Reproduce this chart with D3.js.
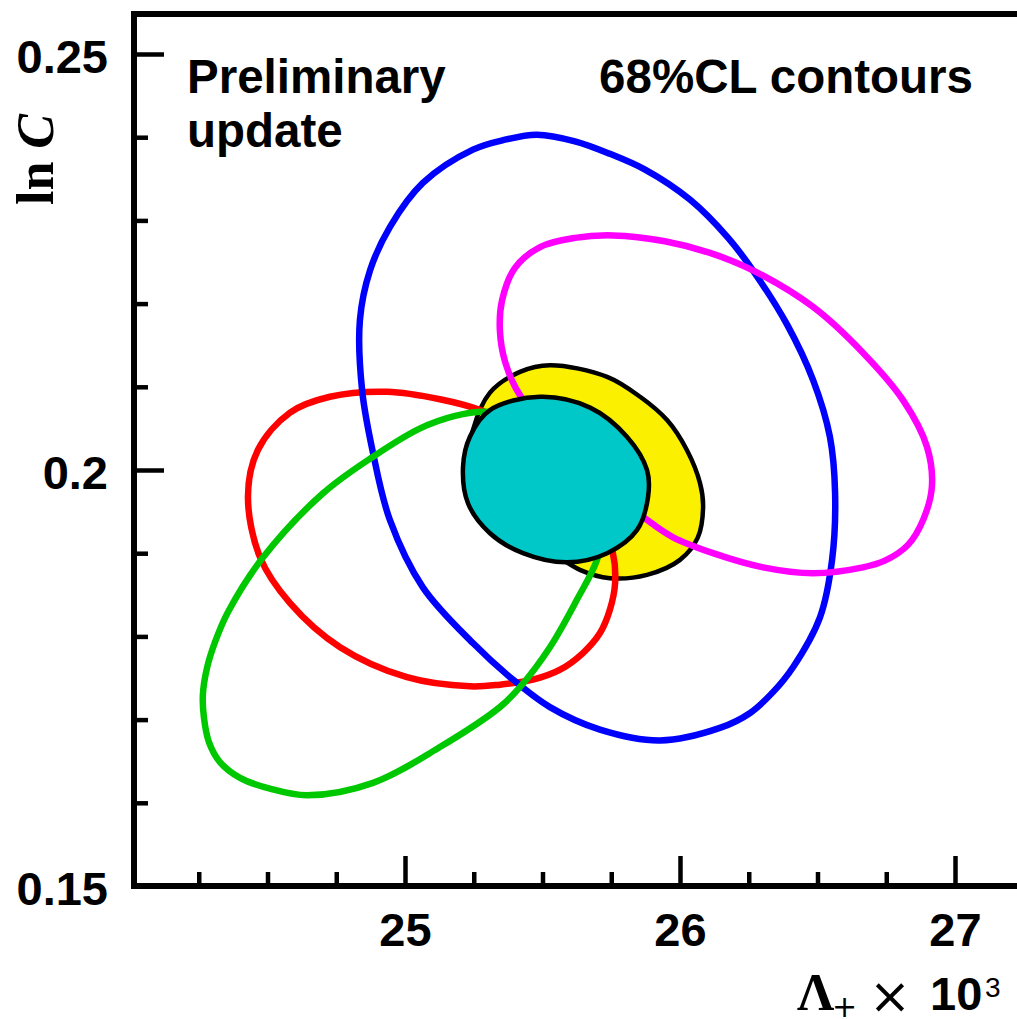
<!DOCTYPE html>
<html lang="en">
<head>
  <meta charset="UTF-8">
  <title>68%CL contours</title>
  <script src="https://d3js.org/d3.v7.min.js"></script>
  <style>
    body {
      margin: 0;
      background: #fff;
    }
    svg {
      display: block;
    }
  </style>
</head>
<body>
  <svg id="chart" width="1017" height="1019"></svg>

  <script>
    // Tick values.
    const xMajor = [25, 26, 27];
    const xMinor = [24.25, 24.5, 24.75, 25.25, 25.5, 25.75, 26.25, 26.5, 26.75];
    const yMajor = [0.15, 0.2, 0.25];
    const yMinor = [0.16, 0.17, 0.18, 0.19, 0.21, 0.22, 0.23, 0.24];

    // Contour points: [Lambda+ x 10^3, ln C]
    const contourYellow = [
      [25.247, 0.2048], [25.309, 0.2093], [25.418, 0.2118], [25.527, 0.2126],
      [25.735, 0.2112], [25.855, 0.2088], [25.953, 0.2060], [26.025, 0.2024],
      [26.073, 0.1984], [26.084, 0.1956], [26.065, 0.1919], [26.000, 0.1892],
      [25.880, 0.1874], [25.745, 0.1870], [25.636, 0.1880], [25.491, 0.1910],
      [25.309, 0.1940], [25.229, 0.2000]
    ];
    const contourRed = [
      [24.935, 0.2094], [25.127, 0.2085], [25.273, 0.2072], [25.491, 0.2036],
      [25.673, 0.1970], [25.756, 0.1900], [25.764, 0.1864], [25.745, 0.1832],
      [25.709, 0.1804], [25.647, 0.1780], [25.564, 0.1760], [25.465, 0.1748],
      [25.345, 0.1742], [25.236, 0.1740], [25.007, 0.1751], [24.764, 0.1787],
      [24.582, 0.1840], [24.473, 0.1895], [24.429, 0.1968], [24.465, 0.2024],
      [24.582, 0.2069], [24.727, 0.2088]
    ];
    const contourBlue = [
      [25.480, 0.2403], [25.618, 0.2395], [25.745, 0.2380], [25.873, 0.2361],
      [26.036, 0.2325], [26.175, 0.2279], [26.265, 0.2240], [26.389, 0.2175],
      [26.484, 0.2108], [26.545, 0.2040], [26.564, 0.1972], [26.553, 0.1892],
      [26.509, 0.1823], [26.411, 0.1763], [26.338, 0.1733], [26.255, 0.1708],
      [26.145, 0.1690], [25.927, 0.1675], [25.709, 0.1688], [25.527, 0.1715],
      [25.382, 0.1751], [25.247, 0.1792], [25.065, 0.1859], [24.945, 0.1940],
      [24.884, 0.2020], [24.844, 0.2096], [24.836, 0.2180], [24.873, 0.2240],
      [24.945, 0.2292], [25.065, 0.2345], [25.247, 0.2385], [25.364, 0.2397]
    ];
    const contourGreen = [
      [25.284, 0.2070], [25.491, 0.2060], [25.673, 0.2012], [25.727, 0.1940],
      [25.698, 0.1892], [25.625, 0.1844], [25.527, 0.1787], [25.418, 0.1739],
      [25.345, 0.1715], [25.127, 0.1667], [24.884, 0.1624], [24.644, 0.1609],
      [24.509, 0.1617], [24.400, 0.1630], [24.327, 0.1649], [24.287, 0.1673],
      [24.269, 0.1702], [24.265, 0.1730], [24.280, 0.1762], [24.309, 0.1793],
      [24.356, 0.1829], [24.484, 0.1895], [24.702, 0.1972], [24.884, 0.2016],
      [25.055, 0.2050], [25.182, 0.2065]
    ];
    const contourMagenta = [
      [25.756, 0.2282], [25.945, 0.2275], [26.109, 0.2261], [26.265, 0.2240],
      [26.484, 0.2196], [26.665, 0.2141], [26.811, 0.2084], [26.898, 0.2028],
      [26.916, 0.1980], [26.884, 0.1940], [26.829, 0.1910], [26.745, 0.1891],
      [26.665, 0.1883], [26.484, 0.1876], [26.302, 0.1883], [26.120, 0.1900],
      [25.975, 0.1919], [25.880, 0.1940], [25.745, 0.1976], [25.564, 0.2036],
      [25.418, 0.2090], [25.364, 0.2130], [25.345, 0.2168], [25.353, 0.2204],
      [25.400, 0.2243], [25.491, 0.2268], [25.618, 0.2279]
    ];
    const contourCyan = [
      [25.211, 0.2004], [25.236, 0.2040], [25.309, 0.2072], [25.491, 0.2088],
      [25.673, 0.2075], [25.807, 0.2040], [25.880, 0.2000], [25.884, 0.1968],
      [25.844, 0.1928], [25.735, 0.1900], [25.589, 0.1889], [25.429, 0.1900],
      [25.309, 0.1924], [25.229, 0.1960]
    ];

    // Layout.
    const frameLeft = 134, frameTop = 14, frameRight = 1017;

    const svg = d3.select("#chart");

    const xScale = d3.scaleLinear().domain([25, 27]).range([405, 955]);
    const yScale = d3.scaleLinear().domain([0.15, 0.25]).range([886, 54]);
    const frameBottom = yScale(0.15);

    const line = d3.line()
      .x(d => xScale(d[0]))
      .y(d => yScale(d[1]))
      .curve(d3.curveCatmullRomClosed.alpha(0.5));

    // --------------------------
    // Contours (yellow, lines, cyan on top)
    // --------------------------
    svg.append("path")
      .datum(contourYellow)
      .attr("d", line)
      .attr("fill", "#faf000")
      .attr("stroke", "#000")
      .attr("stroke-width", 4.5);

    const lines = [
      { pts: contourRed, color: "#ff0000" },
      { pts: contourBlue, color: "#0000ff" },
      { pts: contourGreen, color: "#00c800" },
      { pts: contourMagenta, color: "#ff00ff" }
    ];
    lines.forEach(l => {
      svg.append("path")
        .datum(l.pts)
        .attr("d", line)
        .attr("fill", "none")
        .attr("stroke", l.color)
        .attr("stroke-width", 6.5);
    });

    svg.append("path")
      .datum(contourCyan)
      .attr("d", line)
      .attr("fill", "#00c8c8")
      .attr("stroke", "#000")
      .attr("stroke-width", 4.5);

    // --------------------------
    // Axes (ticks pointing inward)
    // --------------------------
    const fontSans = "'Liberation Sans', Arial, Helvetica, sans-serif";
    const fontSerif = "'Liberation Serif', 'Times New Roman', serif";

    const xAxisMajor = svg.append("g")
      .attr("transform", `translate(0,${frameBottom})`)
      .call(d3.axisBottom(xScale).tickValues(xMajor).tickSize(-30).tickPadding(27)
        .tickFormat(d3.format("d")));
    const xAxisMinor = svg.append("g")
      .attr("transform", `translate(0,${frameBottom})`)
      .call(d3.axisBottom(xScale).tickValues(xMinor).tickSize(-14).tickFormat(""));

    const yAxisMajor = svg.append("g")
      .attr("transform", `translate(${frameLeft},0)`)
      .call(d3.axisLeft(yScale).tickValues(yMajor).tickSize(-30).tickPadding(26)
        .tickFormat(d => d === 0.2 ? "0.2" : d3.format(".2f")(d)));
    const yAxisMinor = svg.append("g")
      .attr("transform", `translate(${frameLeft},0)`)
      .call(d3.axisLeft(yScale).tickValues(yMinor).tickSize(-14).tickFormat(""));

    [xAxisMajor, xAxisMinor, yAxisMajor, yAxisMinor].forEach(a => {
      a.select(".domain").remove();
      a.selectAll(".tick line").attr("stroke", "#000").attr("stroke-width", 4.5);
      a.selectAll(".tick text")
        .attr("fill", "#000")
        .style("font-family", fontSans)
        .style("font-weight", "bold")
        .style("font-size", "47px");
    });
    yAxisMajor.selectAll(".tick text").attr("dy", "0.4em");

    // Frame: left, top, bottom (right side falls outside the picture).
    svg.append("path")
      .attr("d", `M${frameRight},${frameTop} H${frameLeft} V${frameBottom + 3} M${frameLeft - 3},${frameBottom} H${frameRight}`)
      .attr("fill", "none")
      .attr("stroke", "#000")
      .attr("stroke-width", 6);

    // --------------------------
    // Labels
    // --------------------------
    const label = (x, y, txt, anchor) => svg.append("text")
      .attr("x", x).attr("y", y)
      .attr("text-anchor", anchor)
      .style("font-family", fontSans).style("font-weight", "bold").style("font-size", "47.5px")
      .text(txt);
    label(187, 93, "Preliminary", "start");
    label(187, 147, "update", "start");
    label(973, 93, "68%CL contours", "end");

    // Y axis title: ln C
    const yTitle = svg.append("text")
      .attr("transform", "translate(53,205) rotate(-90)")
      .style("font-family", fontSerif)
      .style("font-weight", "bold")
      .style("font-size", "52px");
    yTitle.append("tspan").text("ln ");
    yTitle.append("tspan").style("font-style", "italic").text("C");

    // X axis title: Λ+ × 10^3
    const xTitle = svg.append("text");
    xTitle.append("tspan")
      .attr("x", 797).attr("y", 1010)
      .style("font-family", fontSerif).style("font-weight", "bold").style("font-size", "52px")
      .text("Λ");
    xTitle.append("tspan")
      .attr("x", 832).attr("y", 1017)
      .style("font-family", "'DejaVu Sans', sans-serif").style("font-size", "30px")
      .text("+");
    xTitle.append("tspan")
      .attr("x", 869).attr("y", 1013)
      .style("font-family", "'DejaVu Sans', sans-serif").style("font-size", "50px")
      .text("×");
    xTitle.append("tspan")
      .attr("x", 930).attr("y", 1010)
      .style("font-family", fontSans).style("font-weight", "bold").style("font-size", "47px")
      .text("10");
    xTitle.append("tspan")
      .attr("x", 985).attr("y", 997)
      .style("font-family", fontSans).style("font-size", "28px")
      .text("3");
  </script>
</body>
</html>
